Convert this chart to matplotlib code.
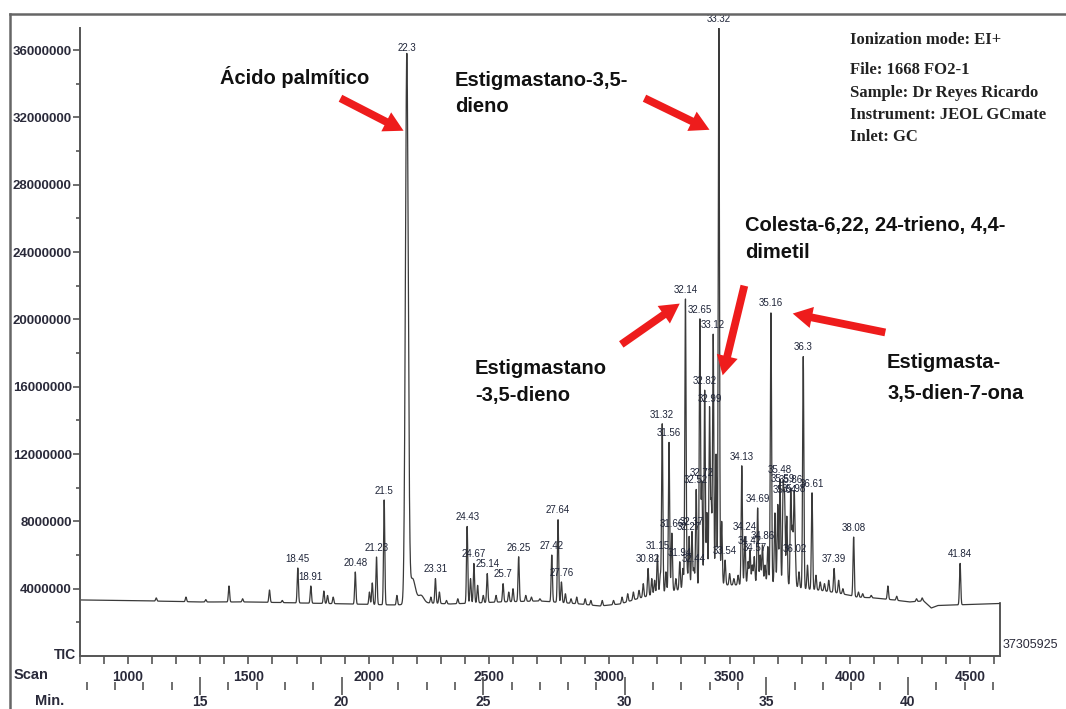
import numpy as np
import matplotlib.pyplot as plt
from matplotlib.lines import Line2D
from matplotlib.patches import FancyArrowPatch

W, H = 1066, 709

# baseline of the TIC trace (minutes, counts in millions)
base_rt = [10.76, 13.23, 15.0, 16.77, 18.53, 20.30, 21.89, 23.1, 23.83, 25.59, 27.0, 28.42, 29.12,
           29.83, 30.54, 31.24, 32.30, 33.36, 34.07, 34.77, 35.83, 36.3, 36.9, 37.5, 37.95, 38.2,
           38.8, 39.5, 40.05, 40.55, 40.7, 40.82, 41.05, 43.25]
base_val = [3.33, 3.27, 3.21, 3.21, 3.15, 3.09, 3.03, 3.15, 3.09, 3.21, 3.27, 3.09, 2.97,
            3.09, 3.45, 3.74, 4.04, 4.22, 4.22, 4.40, 4.22, 4.0, 3.9, 3.75, 3.6, 3.5,
            3.45, 3.33, 3.21, 3.27, 3.05, 2.85, 3.0, 3.12]

# labelled peaks: retention time label, top of peak (millions)
peak_labels = ["18.45", "18.91", "20.48", "21.23", "21.5", "22.3", "23.31", "24.43", "24.67", "25.14",
               "25.7", "26.25", "27.42", "27.64", "27.76", "30.82", "31.15", "31.32", "31.56", "31.66",
               "31.94", "32.14", "32.27", "32.37", "32.44", "32.52", "32.65", "32.72", "32.82", "32.99",
               "33.12", "33.32", "33.54", "34.13", "34.24", "34.42", "34.57", "34.69", "34.86", "35.16",
               "35.48", "35.59", "35.64", "35.86", "35.98", "36.02", "36.3", "36.61", "37.39", "38.08",
               "41.84"]
peak_top = [5.23, 4.16, 4.99, 5.88, 9.27, 35.6, 4.6, 7.7, 5.5, 4.9,
            4.3, 5.9, 6.0, 8.1, 4.4, 5.2, 6.0, 13.8, 12.7, 7.3,
            5.6, 21.2, 7.1, 7.4, 5.2, 9.9, 20.0, 10.3, 15.8, 14.7,
            19.1, 37.3, 5.7, 11.3, 7.1, 6.3, 5.9, 8.8, 6.6, 20.4,
            10.5, 10.0, 9.3, 9.9, 9.4, 5.8, 17.8, 9.7, 5.2, 7.07,
            5.5]

# small unlabelled peaks
small_rt = [13.45, 14.5, 15.2, 16.02, 16.5, 17.45, 17.9, 19.37, 19.5, 19.7, 20.98, 21.08, 21.95,
            22.5, 22.8, 23.15, 23.45, 23.7, 24.1, 24.55, 24.8, 25.0, 25.45, 25.9, 26.05, 26.5, 26.7,
            27.0, 27.9, 28.1, 28.3, 28.6, 28.8, 29.2, 29.6, 29.9, 30.1, 30.3, 30.5, 30.65, 30.95,
            31.05, 31.25, 31.45, 31.8, 32.05, 32.2, 32.9, 33.05, 33.22, 33.42, 33.7, 33.85, 34.0,
            34.35, 34.5, 34.78, 34.95, 35.05, 35.3, 35.4, 35.72, 35.92, 36.15, 36.45, 36.75, 36.9,
            37.05, 37.2, 37.55, 37.7, 38.25, 38.4, 38.7, 39.29, 39.6, 40.3, 40.5]
small_top = [3.45, 3.5, 3.35, 4.16, 3.4, 3.92, 3.3, 3.86, 3.6, 3.5, 3.8, 4.34, 3.6,
             4.6, 3.6, 3.5, 3.8, 3.3, 3.4, 4.6, 4.2, 3.6, 3.6, 3.8, 4.0, 3.6, 3.5,
             3.4, 3.7, 3.4, 3.5, 3.4, 3.3, 3.3, 3.3, 3.5, 3.7, 3.8, 3.9, 4.3, 4.6,
             4.5, 4.8, 5.0, 4.6, 5.2, 5.0, 8.5, 9.0, 12.0, 8.0, 4.9, 4.6, 4.8,
             5.6, 5.4, 6.0, 5.4, 6.5, 8.5, 9.0, 8.3, 7.5, 5.0, 5.4, 4.8, 4.4,
             4.3, 4.5, 4.5, 4.0, 3.8, 3.7, 3.6, 4.16, 3.55, 3.4, 3.45]

y_ticks = [4000000, 8000000, 12000000, 16000000, 20000000, 24000000, 28000000, 32000000, 36000000]
scan_labels = [1000, 1500, 2000, 2500, 3000, 3500, 4000, 4500]
min_labels = [15, 20, 25, 30, 35, 40]
tic_max = "37305925"

info_lines = ["Ionization mode: EI+", "File: 1668 FO2-1", "Sample: Dr Reyes Ricardo",
              "Instrument: JEOL GCmate", "Inlet: GC"]


def scan_to_min(s):
    return (np.asarray(s, dtype=float) + 466.2) / 117.7


x0, x1 = 10.763, 43.249

# build the trace
t = np.arange(x0, x1 + 0.002, 0.003)
base = np.interp(t, base_rt, base_val)
trace = base.copy()
for lab, top in zip(peak_labels, peak_top):
    rt = float(lab)
    sig = 0.05 if lab == "22.3" else 0.022
    trace += (top - np.interp(rt, base_rt, base_val)) * np.exp(-0.5 * ((t - rt) / sig) ** 2)
for rt, top in zip(small_rt, small_top):
    sig = 0.1 if rt in (22.5, 22.8) else 0.022
    trace += (top - np.interp(rt, base_rt, base_val)) * np.exp(-0.5 * ((t - rt) / sig) ** 2)

fig = plt.figure(figsize=(W / 100, H / 100), dpi=100)
plt.rcParams['font.family'] = ['Liberation Sans', 'DejaVu Sans']

ax = fig.add_axes([80 / W, 1 - 656 / H, 920 / W, 628 / H])
ax.plot(t, trace * 1e6, color='#3a3a3a', lw=0.9)
ax.plot([t[-1], t[-1]], [trace[-1] * 1e6, 0], color='#3a3a3a', lw=1.2, clip_on=False)
ax.set_xlim(x0, x1)
ax.set_ylim(0, 37.31e6)

for lab, top in zip(peak_labels, peak_top):
    ax.annotate(lab, (float(lab), top * 1e6), xytext=(0, 3), textcoords='offset points',
                ha='center', va='bottom', fontsize=7, color='#1e2438', annotation_clip=False)

for s in ['top', 'right']:
    ax.spines[s].set_visible(False)
for s in ['left', 'bottom']:
    ax.spines[s].set_color('#555555')
    ax.spines[s].set_linewidth(1.4)

ax.set_yticks(y_ticks)
ax.set_yticklabels([str(v) for v in y_ticks], fontsize=9.5, fontweight='bold', color='#2a2a3a')
ax.set_yticks(np.arange(2000000, 37000000, 4000000), minor=True)
ax.tick_params(axis='y', which='major', length=5, width=1.2, color='#555555', pad=1)
ax.tick_params(axis='y', which='minor', length=3, width=1.2, color='#555555')

ax.set_xticks(scan_to_min(scan_labels))
ax.set_xticklabels([str(s) for s in scan_labels], fontsize=10, fontweight='bold', color='#2a2a3a')
ax.set_xticks(scan_to_min(np.arange(800, 4700, 100)), minor=True)
ax.tick_params(axis='x', which='both', length=6, width=1.2, color='#555555', pad=4)

# minutes axis
ax2 = fig.add_axes([80 / W, 1 - 686 / H, 920 / W, 0.0001])
ax2.set_xlim(x0, x1)
ax2.set_yticks([])
for s in ax2.spines.values():
    s.set_visible(False)
ax2.set_xticks(min_labels)
ax2.set_xticklabels([str(m) for m in min_labels], fontsize=10, fontweight='bold', color='#2a2a3a')
ax2.set_xticks(np.arange(11, 44, 1), minor=True)
ax2.tick_params(axis='x', which='major', direction='inout', length=13, width=1.2, color='#555555', pad=0)
ax2.tick_params(axis='x', which='minor', direction='inout', length=6, width=1.2, color='#555555')

fig.text(54 / W, 1 - 655 / H, "TIC", fontsize=10, fontweight='bold', ha='left', va='center', color='#2a2a3a')
fig.text(14 / W, 1 - 675 / H, "Scan", fontsize=10.5, fontweight='bold', ha='left', va='center', color='#2a2a3a')
fig.text(35 / W, 1 - 701 / H, "Min.", fontsize=10.5, fontweight='bold', ha='left', va='center', color='#2a2a3a')
fig.text(1003 / W, 1 - 645 / H, tic_max, fontsize=9, ha='left', va='center', color='#2a2a3a')

# info block
info_y = [40, 70, 93, 115, 137]
for line, yy in zip(info_lines, info_y):
    fig.text(850 / W, 1 - yy / H, line, fontsize=12, fontweight='bold', family='Liberation Serif',
             ha='left', va='center', color='#222222')

# compound annotations
notes = [(220, 77, "Ácido palmítico"),
         (455, 80, "Estigmastano-3,5-"), (455, 106, "dieno"),
         (745, 226, "Colesta-6,22, 24-trieno, 4,4-"), (745, 253, "dimetil"),
         (475, 368, "Estigmastano"), (475, 396, "-3,5-dieno"),
         (887, 362, "Estigmasta-"), (887, 393, "3,5-dien-7-ona")]
for xx, yy, txt in notes:
    fig.text(xx / W, 1 - yy / H, txt, fontsize=14.5, fontweight='bold', ha='left', va='center', color='#111111')

arrows = [((338, 97), (406, 132)), ((642, 97), (712, 131)), ((745, 283), (722, 378)),
          ((619, 346), (682, 302)), ((888, 333), (790, 313))]
for (xa, ya), (xb, yb) in arrows:
    fig.patches.append(FancyArrowPatch((xa / W, 1 - ya / H), (xb / W, 1 - yb / H),
                                       transform=fig.transFigure,
                                       arrowstyle='simple,tail_width=0.4,head_width=1.1,head_length=1.0',
                                       mutation_scale=14, color='#ee1c1c', lw=0))

# outer frame
fig.lines.append(Line2D([10 / W, 1], [1 - 14 / H, 1 - 14 / H], transform=fig.transFigure, color='#666666', lw=1.8))
fig.lines.append(Line2D([10 / W, 10 / W], [1 - 14 / H, 0], transform=fig.transFigure, color='#666666', lw=1.8))

fig.savefig('out.png', dpi=100)
